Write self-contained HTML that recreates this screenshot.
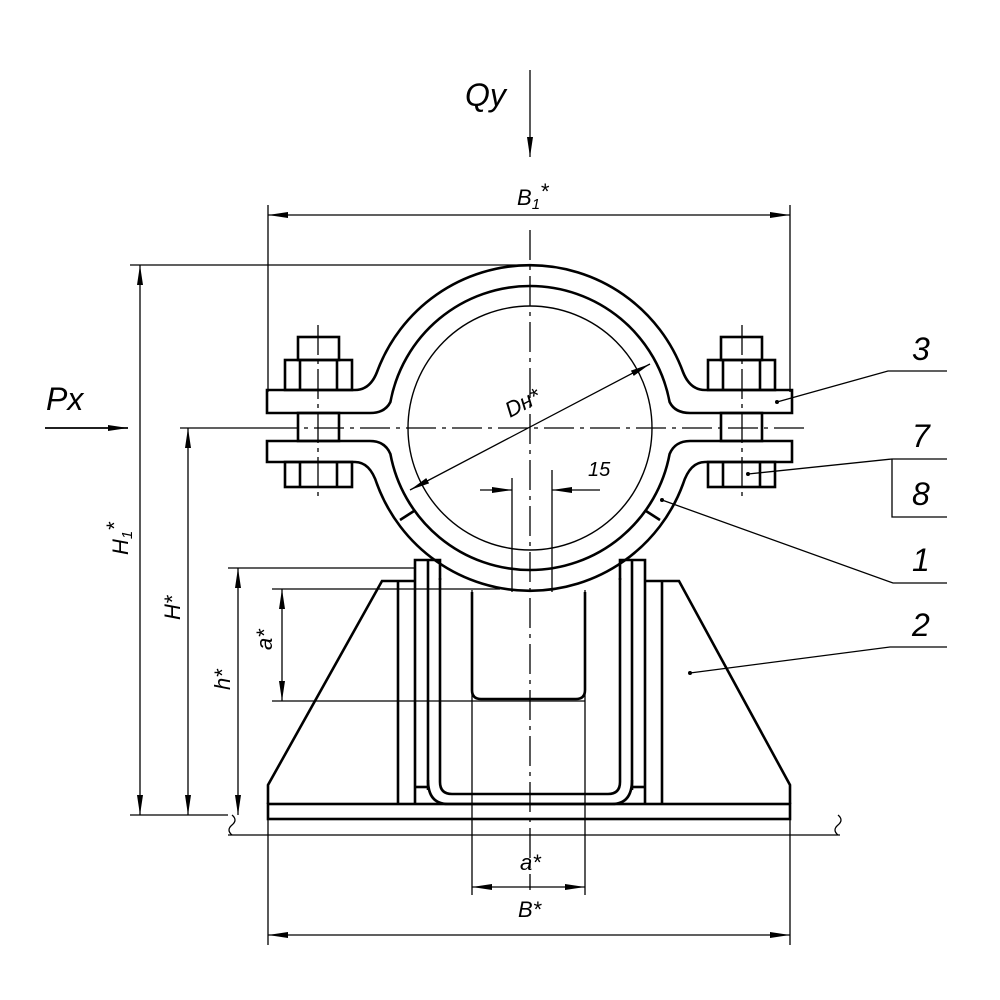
<!DOCTYPE html>
<html><head><meta charset="utf-8"><style>
html,body{margin:0;padding:0;background:#fff}
svg{display:block}
text{font-family:"Liberation Sans",sans-serif;font-style:italic;fill:#000}
</style></head><body>
<svg width="1000" height="1000" viewBox="0 0 1000 1000" xmlns="http://www.w3.org/2000/svg">
<defs>
<marker id="a" viewBox="0 0 20 8" refX="20" refY="4" markerWidth="20" markerHeight="8" markerUnits="userSpaceOnUse" orient="auto-start-reverse"><path d="M0,1 L20,4 L0,7 Z" fill="#000"/></marker>
</defs>
<g fill="none" stroke="#000">
<g stroke-width="1.3">
<line x1="530" y1="70" x2="530" y2="157" marker-end="url(#a)"/>
<line x1="45" y1="428" x2="128" y2="428" stroke-width="1.8" marker-end="url(#a)"/>
<line x1="268" y1="205" x2="268" y2="392"/>
<line x1="790" y1="205" x2="790" y2="392"/>
<line x1="268" y1="215" x2="790" y2="215" marker-start="url(#a)" marker-end="url(#a)"/>
<line x1="130" y1="265" x2="530" y2="265"/>
<line x1="140" y1="265" x2="140" y2="815" marker-start="url(#a)" marker-end="url(#a)"/>
<line x1="180" y1="428" x2="268" y2="428"/>
<line x1="188" y1="428" x2="188" y2="815" marker-start="url(#a)" marker-end="url(#a)"/>
<line x1="228" y1="568" x2="415" y2="568"/>
<line x1="238" y1="568" x2="238" y2="815" marker-start="url(#a)" marker-end="url(#a)"/>
<line x1="272" y1="589" x2="500" y2="589"/>
<line x1="272" y1="701" x2="585" y2="701"/>
<line x1="282" y1="589" x2="282" y2="701" marker-start="url(#a)" marker-end="url(#a)"/>
<line x1="130" y1="815" x2="228" y2="815"/>
<line x1="530" y1="230" x2="530" y2="890" stroke-dasharray="30,6,4,6"/>
<line x1="268" y1="428" x2="810" y2="428" stroke-dasharray="30,6,4,6"/>
<line x1="318" y1="325" x2="318" y2="500" stroke-dasharray="30,5,4,5"/>
<line x1="742" y1="325" x2="742" y2="500" stroke-dasharray="30,5,4,5"/>
<line x1="410" y1="490" x2="650" y2="364" marker-start="url(#a)" marker-end="url(#a)"/>
<line x1="512" y1="478" x2="512" y2="592"/>
<line x1="552" y1="470" x2="552" y2="592"/>
<line x1="480" y1="490" x2="512" y2="490" marker-end="url(#a)"/>
<line x1="600" y1="490" x2="552" y2="490" marker-end="url(#a)"/>
<line x1="472" y1="590" x2="472" y2="895"/>
<line x1="585" y1="590" x2="585" y2="895"/>
<line x1="472" y1="887" x2="585" y2="887" marker-start="url(#a)" marker-end="url(#a)"/>
<line x1="268" y1="815" x2="268" y2="945"/>
<line x1="790" y1="815" x2="790" y2="945"/>
<line x1="268" y1="935" x2="790" y2="935" marker-start="url(#a)" marker-end="url(#a)"/>
<polyline points="777,402 888,371 947,371"/>
<polyline points="748,474 892,459 947,459"/>
<polyline points="892,459 892,517 947,517"/>
<polyline points="662,500 893,583 947,583"/>
<polyline points="690,673 890,647 947,647"/>
<line x1="228" y1="835" x2="840" y2="835"/>
<path d="M232,815 Q238,820 232,825 Q226,830 232,835"/>
<path d="M838,815 Q844,820 838,825 Q832,830 838,835"/>
</g>
<g fill="#000" stroke="none">
<circle cx="777" cy="402" r="2"/><circle cx="748" cy="474" r="2"/><circle cx="662" cy="500" r="2"/><circle cx="690" cy="673" r="2"/>
</g>
<circle cx="530" cy="428" r="122" stroke-width="1.4"/>
<g stroke-width="2.6">
<path d="M267,390 L355,390 Q370,390 377,372 A163,163 0 0 1 683,372 Q690,390 705,390 L792,390 L792,413 L690,413 Q675,413 669.6,402 A142,142 0 0 0 390.4,402 Q385,413 370,413 L267,413 Z"/>
<path d="M267,441 L370,441 Q385,441 390.4,454 A142,142 0 0 0 669.6,454 Q675,441 690,441 L792,441 L792,462 L705,462 Q690,462 683,484 A163,163 0 0 1 377,484 Q370,462 355,462 L267,462 Z"/>
<line x1="400" y1="520" x2="414" y2="511"/>
<line x1="660" y1="520" x2="646" y2="511"/>
<rect x="298" y="337" width="41" height="23"/>
<rect x="285" y="360" width="67" height="30"/>
<line x1="300" y1="360" x2="300" y2="390"/><line x1="337" y1="360" x2="337" y2="390"/>
<rect x="298" y="413" width="41" height="28"/>
<rect x="285" y="462" width="67" height="25"/>
<line x1="300" y1="462" x2="300" y2="487"/><line x1="337" y1="462" x2="337" y2="487"/>
<rect x="721" y="337" width="41" height="23"/>
<rect x="708" y="360" width="67" height="30"/>
<line x1="723" y1="360" x2="723" y2="390"/><line x1="760" y1="360" x2="760" y2="390"/>
<rect x="721" y="413" width="41" height="28"/>
<rect x="708" y="462" width="67" height="25"/>
<line x1="723" y1="462" x2="723" y2="487"/><line x1="760" y1="462" x2="760" y2="487"/>
<path d="M268,804 L268,785 L382,581 L415,581"/>
<path d="M790,804 L790,785 L679,581 L645,581"/>
<rect x="268" y="804" width="522" height="15"/>
<line x1="398" y1="581" x2="398" y2="804"/>
<line x1="662" y1="581" x2="662" y2="804"/>
<path d="M415,804 L415,560 L440,560 L440,580"/>
<path d="M645,804 L645,560 L620,560 L620,580"/>
<line x1="428" y1="560" x2="428" y2="790"/>
<line x1="632" y1="560" x2="632" y2="790"/>
<line x1="415" y1="787" x2="428" y2="787"/><line x1="632" y1="787" x2="645" y2="787"/>
<path d="M428,780 Q428,804 448,804 L612,804 Q632,804 632,780"/>
<path d="M440,578 L440,782 Q440,794 452,794 L608,794 Q620,794 620,782 L620,578"/>
<path d="M472,592 L472,690 Q472,699 481,699 L576,699 Q585,699 585,690 L585,592"/>
</g>
</g>
<text x="465" y="106" font-size="32">Qy</text>
<text x="46" y="410" font-size="32">Px</text>
<text x="517" y="205" font-size="22">B<tspan font-size="15" dy="4">1</tspan><tspan dy="-10">*</tspan></text>
<text transform="translate(510,418) rotate(-28)" font-size="22">Dн*</text>
<text x="588" y="476" font-size="20">15</text>
<text transform="translate(128,555) rotate(-90)" font-size="22">H<tspan font-size="15" dy="4">1</tspan><tspan dy="-10">*</tspan></text>
<text transform="translate(180,620) rotate(-90)" font-size="22">H*</text>
<text transform="translate(230,690) rotate(-90)" font-size="22">h*</text>
<text transform="translate(272,650) rotate(-90)" font-size="22">a*</text>
<text x="520" y="870" font-size="22">a*</text>
<text x="518" y="917" font-size="22">B*</text>
<text x="912" y="360" font-size="32">3</text>
<text x="912" y="447" font-size="32">7</text>
<text x="912" y="505" font-size="32">8</text>
<text x="912" y="571" font-size="32">1</text>
<text x="912" y="636" font-size="32">2</text>
</svg>
</body></html>
